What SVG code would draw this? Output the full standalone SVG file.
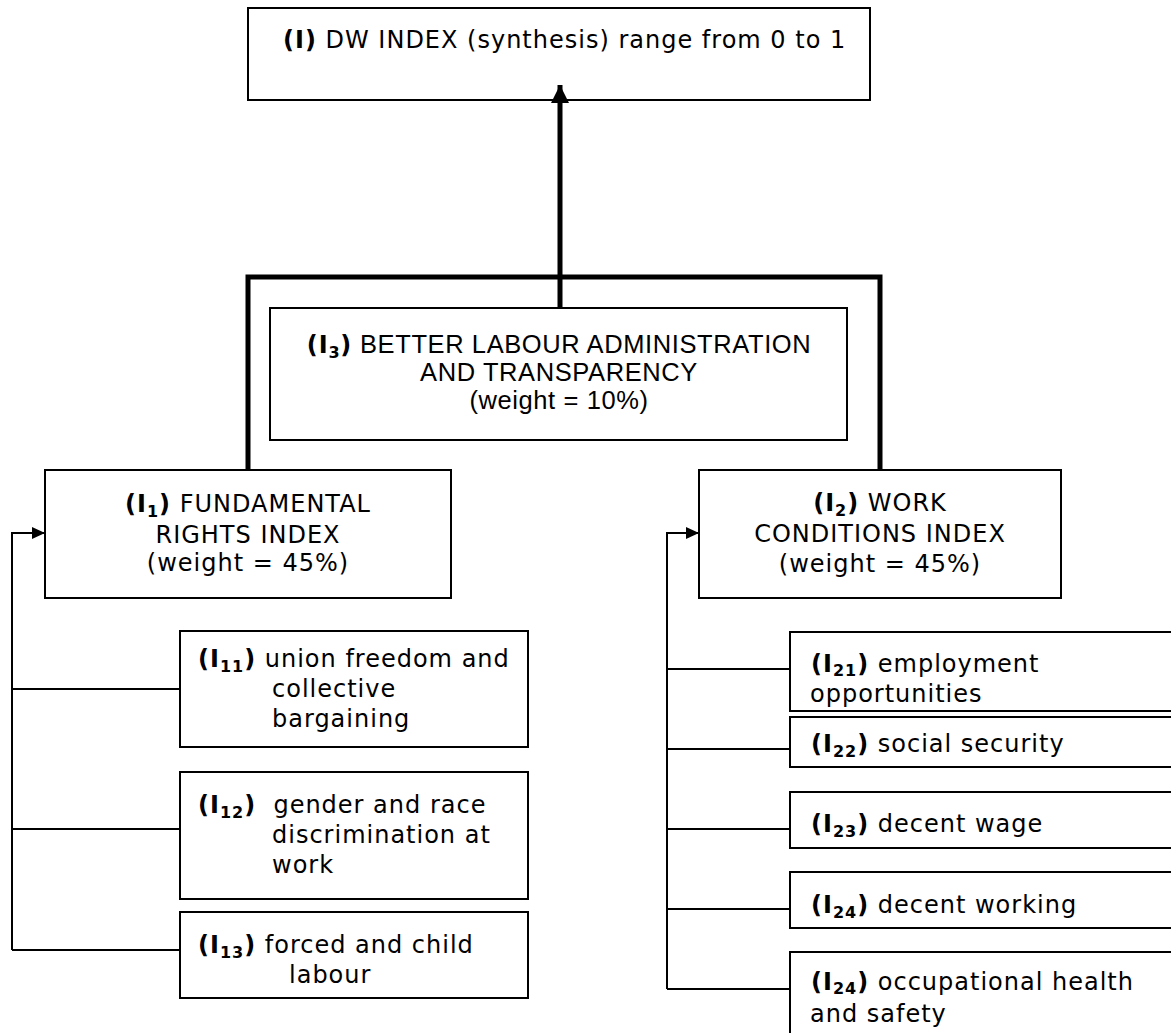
<svg xmlns="http://www.w3.org/2000/svg" width="1171" height="1033" viewBox="0 0 1171 1033">
<defs>
<style>
.box{fill:#fff;stroke:#000;stroke-width:2}
.t{font-family:"DejaVu Sans",Verdana,sans-serif;font-size:24px;fill:#000;letter-spacing:1px}
.b{font-weight:bold}
.sub{font-size:16px;font-weight:bold}
.t3{font-family:"Liberation Sans",Arial,sans-serif;font-size:25.5px;fill:#000;letter-spacing:0.6px}
.bv{font-family:"DejaVu Sans",Verdana,sans-serif;font-weight:bold;font-size:24px;letter-spacing:1px}
.sv{font-family:"DejaVu Sans",Verdana,sans-serif;font-weight:bold;font-size:16px}
.thick{stroke:#000;stroke-width:5;fill:none}
.thin{stroke:#000;stroke-width:2;fill:none}
</style>
<marker id="bigArrow" markerUnits="userSpaceOnUse" markerWidth="18" markerHeight="18" refX="16" refY="8" orient="auto" viewBox="0 0 16 16">
<path d="M0,0 L16,8 L0,16 Z" fill="#000"/>
</marker>
<marker id="smallArrow" markerUnits="userSpaceOnUse" markerWidth="14" markerHeight="12" refX="13" refY="6" orient="auto" viewBox="0 0 13 12">
<path d="M0,0 L13,6 L0,12 Z" fill="#000"/>
</marker>
</defs>
<rect width="1171" height="1033" fill="#fff"/>

<g id="node-I">
<rect class="box" x="248" y="8" width="622" height="92"/>
<text class="t" x="283" y="48"><tspan class="b">(I)</tspan> DW INDEX (synthesis) range from 0 to 1</text>
</g>

<g id="node-I3">
<rect class="box" x="270" y="308" width="577" height="132"/>
<text class="t3" x="559" y="353" text-anchor="middle"><tspan class="bv">(I</tspan><tspan class="sv" dy="5">3</tspan><tspan class="bv" dy="-5">)</tspan> BETTER LABOUR ADMINISTRATION</text>
<text class="t3" x="559" y="381" text-anchor="middle">AND TRANSPARENCY</text>
<text class="t3" x="559" y="409" text-anchor="middle">(weight = 10%)</text>
</g>

<g id="node-I1">
<rect class="box" x="45" y="470" width="406" height="128"/>
<text class="t" x="248" y="512" text-anchor="middle"><tspan class="b">(I</tspan><tspan class="sub" dy="5">1</tspan><tspan class="b" dy="-5">)</tspan> FUNDAMENTAL</text>
<text class="t" x="248" y="543" text-anchor="middle">RIGHTS INDEX</text>
<text class="t" x="248" y="571" text-anchor="middle">(weight = 45%)</text>
</g>

<g id="node-I2">
<rect class="box" x="699" y="470" width="362" height="128"/>
<text class="t" x="880" y="511" text-anchor="middle"><tspan class="b">(I</tspan><tspan class="sub" dy="5">2</tspan><tspan class="b" dy="-5">)</tspan> WORK</text>
<text class="t" x="880" y="542" text-anchor="middle">CONDITIONS INDEX</text>
<text class="t" x="880" y="572" text-anchor="middle">(weight = 45%)</text>
</g>

<g id="node-I11">
<rect class="box" x="180" y="631" width="348" height="116"/>
<text class="t" x="198" y="667"><tspan class="b">(I</tspan><tspan class="sub" dy="5">11</tspan><tspan class="b" dy="-5">)</tspan> union freedom and</text>
<text class="t" x="272" y="697">collective</text>
<text class="t" x="272" y="727">bargaining</text>
</g>

<g id="node-I12">
<rect class="box" x="180" y="772" width="348" height="127"/>
<text class="t" x="198" y="813"><tspan class="b">(I</tspan><tspan class="sub" dy="5">12</tspan><tspan class="b" dy="-5">)</tspan> &#160;gender and race</text>
<text class="t" x="272" y="843">discrimination at</text>
<text class="t" x="272" y="873">work</text>
</g>

<g id="node-I13">
<rect class="box" x="180" y="912" width="348" height="86"/>
<text class="t" x="198" y="953"><tspan class="b">(I</tspan><tspan class="sub" dy="5">13</tspan><tspan class="b" dy="-5">)</tspan> forced and child</text>
<text class="t" x="289" y="983">labour</text>
</g>

<g id="node-I21">
<rect class="box" x="790" y="632" width="400" height="79"/>
<text class="t" x="811" y="672"><tspan class="b">(I</tspan><tspan class="sub" dy="4">21</tspan><tspan class="b" dy="-4">)</tspan> employment</text>
<text class="t" x="810" y="702">opportunities</text>
</g>

<g id="node-I22">
<rect class="box" x="790" y="717" width="400" height="50"/>
<text class="t" x="811" y="752"><tspan class="b">(I</tspan><tspan class="sub" dy="5">22</tspan><tspan class="b" dy="-5">)</tspan> social security</text>
</g>

<g id="node-I23">
<rect class="box" x="790" y="792" width="400" height="56"/>
<text class="t" x="811" y="832"><tspan class="b">(I</tspan><tspan class="sub" dy="5">23</tspan><tspan class="b" dy="-5">)</tspan> decent wage</text>
</g>

<g id="node-I24">
<rect class="box" x="790" y="872" width="400" height="56"/>
<text class="t" x="811" y="913"><tspan class="b">(I</tspan><tspan class="sub" dy="5">24</tspan><tspan class="b" dy="-5">)</tspan> decent working</text>
</g>

<g id="node-I24b">
<rect class="box" x="790" y="952" width="400" height="100"/>
<text class="t" x="811" y="990"><tspan class="b">(I</tspan><tspan class="sub" dy="4">24</tspan><tspan class="b" dy="-4">)</tspan> occupational health</text>
<text class="t" x="810" y="1022">and safety</text>
</g>

<g id="connectors">
<path class="thick" d="M560,308 V85" marker-end="url(#bigArrow)"/>
<path class="thick" d="M248,470 V277 H880 V470"/>
<path class="thin" d="M12,950 V533 H45" marker-end="url(#smallArrow)"/>
<path class="thin" d="M12,689 H180 M12,829 H180 M12,950 H180"/>
<path class="thin" d="M667,989 V533 H699" marker-end="url(#smallArrow)"/>
<path class="thin" d="M667,669 H790 M667,749 H790 M667,829 H790 M667,909 H790 M667,989 H790"/>
</g>
</svg>
